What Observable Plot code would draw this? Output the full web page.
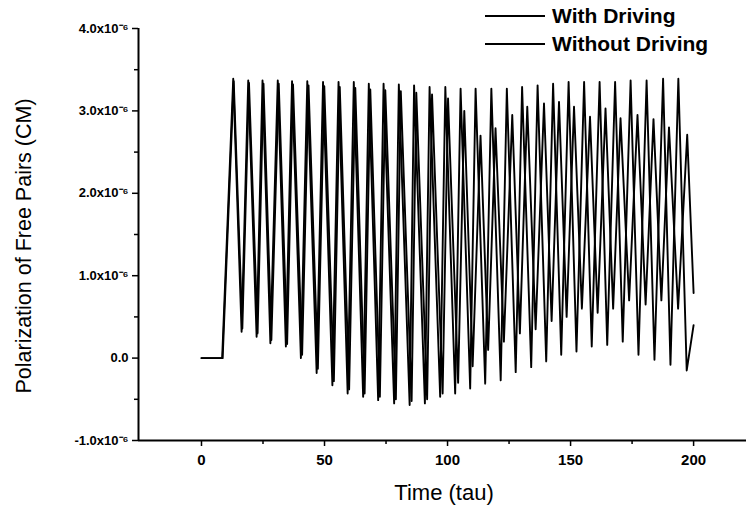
<!DOCTYPE html>
<html><head><meta charset="utf-8">
<script src="https://cdn.jsdelivr.net/npm/d3@7"></script>
<script src="https://cdn.jsdelivr.net/npm/@observablehq/plot@0.6"></script>
<style>
body{margin:0;background:#fff;}
#wrap{position:relative;width:746px;height:511px;overflow:hidden;font-family:"Liberation Sans",Arial,sans-serif;color:#000;}
.leg{position:absolute;left:485px;display:flex;align-items:center;font-size:21px;font-weight:bold;line-height:1;}
.leg .ln{display:inline-block;width:60px;border-top:2px solid #000;margin-right:7px;}
.ytitle{position:absolute;left:24px;top:246px;transform:translate(-50%,-50%) rotate(-90deg);white-space:nowrap;font-size:21.5px;}
.xtitle{position:absolute;left:444px;top:493px;transform:translate(-50%,-50%);white-space:nowrap;font-size:22px;}
</style></head><body><div id="wrap"></div>
<script>
// Series names
const seriesNames = ["With Driving", "Without Driving"];
// Time (tau) of turning points, and polarization in units of 1e-6 CM
const withTime = [0, 8.4, 12.9, 16.3, 19.0, 22.4, 24.8, 28.0, 31.0, 34.3, 36.8, 40.4, 43.0, 46.8, 49.4, 53.2, 55.7, 59.4, 61.9, 65.7, 68.0, 71.8, 74.0, 78.3, 80.2, 84.6, 86.4, 90.8, 92.7, 97.0, 99.1, 103.1, 105.3, 109.2, 111.4, 115.3, 117.8, 121.6, 124.1, 127.7, 130.3, 134.0, 136.6, 140.1, 142.9, 146.2, 149.2, 152.4, 155.5, 158.6, 161.8, 164.9, 168.1, 171.2, 174.4, 177.6, 180.9, 184.1, 187.6, 190.6, 193.8, 197.2, 200];
const withValue = [0, 0, 3.39, 0.32, 3.37, 0.26, 3.37, 0.18, 3.37, 0.14, 3.36, 0.0, 3.36, -0.18, 3.35, -0.33, 3.35, -0.43, 3.35, -0.47, 3.33, -0.51, 3.33, -0.55, 3.32, -0.57, 3.31, -0.55, 3.29, -0.47, 3.29, -0.43, 3.27, -0.37, 3.27, -0.31, 3.27, -0.27, 3.27, -0.17, 3.29, -0.11, 3.31, -0.04, 3.33, 0.04, 3.35, 0.08, 3.35, 0.14, 3.35, 0.16, 3.35, 0.20, 3.37, 0.04, 3.37, -0.02, 3.39, -0.08, 3.39, -0.15, 0.4];
const withoutTime = [0, 8.6, 13.1, 16.6, 19.3, 22.8, 25.2, 28.4, 31.4, 34.8, 37.2, 40.9, 43.5, 47.3, 49.9, 53.8, 56.2, 60.0, 62.5, 66.3, 68.6, 72.5, 74.7, 79.0, 81.0, 85.4, 87.3, 91.7, 93.7, 98.0, 100.2, 104.3, 106.8, 110.2, 113.4, 116.5, 119.5, 122.9, 126.3, 129.4, 132.4, 135.8, 139.2, 142.3, 145.3, 148.4, 151.4, 154.6, 157.9, 161.0, 164.2, 167.3, 170.3, 173.8, 177.2, 180.5, 183.7, 186.9, 190.0, 193.7, 197.4, 200];
const withoutValue = [0, 0, 3.36, 0.36, 3.34, 0.30, 3.33, 0.22, 3.33, 0.17, 3.32, 0.04, 3.31, -0.13, 3.30, -0.28, 3.29, -0.38, 3.28, -0.43, 3.26, -0.47, 3.25, -0.50, 3.24, -0.52, 3.22, -0.50, 3.20, -0.43, 3.15, -0.30, 3.00, -0.10, 2.70, 0.10, 2.79, 0.20, 2.95, 0.30, 3.05, 0.35, 3.09, 0.45, 3.11, 0.50, 3.05, 0.60, 2.93, 0.55, 3.03, 0.60, 2.91, 0.70, 2.95, 0.65, 2.90, 0.70, 2.80, 0.60, 2.71, 0.79];
// Axis ticks
const xTicks = [0, 50, 100, 150, 200];
const xMinorTicks = [25, 75, 125, 175];
const yTicks = [-1, 0, 1, 2, 3, 4];
const yMinorTicks = [-0.5, 0.5, 1.5, 2.5, 3.5];
const xDomain = [-25.6, 221.5];
const yDomain = [-1, 4];

const rows = [
  ...withTime.map((t, i) => ({t, v: withValue[i], s: seriesNames[0]})),
  ...withoutTime.map((t, i) => ({t, v: withoutValue[i], s: seriesNames[1]}))
];

const yFmt = d => d === 0 ? "0.0" : d.toFixed(1) + "x10\u207B\u2076";

const chart = Plot.plot({
  width: 746, height: 511,
  marginLeft: 138, marginRight: 0, marginTop: 28, marginBottom: 71,
  style: {fontFamily: "'Liberation Sans', Arial, sans-serif", background: "#fff", color: "#000"},
  x: {domain: xDomain},
  y: {domain: yDomain},
  marks: [
    Plot.line(rows, {x: "t", y: "v", z: "s", stroke: "#000", strokeWidth: 1.9}),
    Plot.axisX({ticks: xTicks, tickSize: 6, tickPadding: 8, fontSize: 15, fontWeight: "bold", strokeWidth: 1.5, label: null, tickFormat: d => String(d)}),
    Plot.axisX({ticks: xMinorTicks, tickSize: 4, strokeWidth: 1.5, label: null, tickFormat: () => ""}),
    Plot.axisY({ticks: yTicks, tickSize: 6, tickPadding: 4, fontSize: 13, fontWeight: "bold", strokeWidth: 1.5, label: null, tickFormat: yFmt}),
    Plot.axisY({ticks: yMinorTicks, tickSize: 4, strokeWidth: 1.5, label: null, tickFormat: () => ""}),
    Plot.ruleY([yDomain[0]], {stroke: "#000", strokeWidth: 2}),
    Plot.ruleX([xDomain[0]], {stroke: "#000", strokeWidth: 2})
  ]
});

const wrap = document.getElementById("wrap");
wrap.appendChild(chart);
seriesNames.forEach((name, i) => {
  const d = document.createElement("div");
  d.className = "leg";
  d.style.top = (5 + i * 28) + "px";
  d.innerHTML = '<span class="ln"></span><span></span>';
  d.lastChild.textContent = name;
  wrap.appendChild(d);
});
const yt = document.createElement("div"); yt.className = "ytitle"; yt.textContent = "Polarization of Free Pairs (CM)"; wrap.appendChild(yt);
const xt = document.createElement("div"); xt.className = "xtitle"; xt.textContent = "Time (tau)"; wrap.appendChild(xt);
</script></body></html>
